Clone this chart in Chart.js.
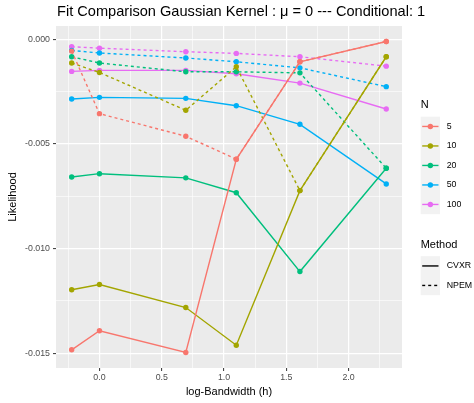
<!DOCTYPE html>
<html>
<head>
<meta charset="utf-8">
<script src="https://cdn.jsdelivr.net/npm/chart.js@4"></script>
<style>
  html, body { margin: 0; padding: 0; background: #fff; }
  #wrap { width: 474px; height: 403px; }
</style>
</head>
<body>
<div id="wrap"><canvas id="fitChart" width="474" height="403"></canvas></div>
<script>
// log-bandwidth values (x)
const logBandwidth = [-0.2231, 0, 0.6931, 1.0986, 1.6094, 2.3026];
const groupN = ['5', '10', '20', '50', '100'];
const methods = ['CVXR', 'NPEM'];
const yTicks = [0, -0.005, -0.010, -0.015];

// likelihood per N, CVXR
const cvxr5   = [-0.01484, -0.01393, -0.01497, -0.00573, -0.00107, -0.00010];
const cvxr10  = [-0.01197, -0.01172, -0.01282, -0.01462, -0.00723, -0.00083];
const cvxr20  = [-0.00658, -0.00642, -0.00662, -0.00733, -0.01110, -0.00616];
const cvxr50  = [-0.00285, -0.00277, -0.00282, -0.00317, -0.00406, -0.00691];
const cvxr100 = [-0.00153, -0.00148, -0.00148, -0.00164, -0.00209, -0.00333];

// likelihood per N, NPEM
const npem5   = [-0.00056, -0.00355, -0.00463, -0.00573, -0.00107, -0.00010];
const npem10  = [-0.00113, -0.00158, -0.00339, -0.00131, -0.00723, -0.00083];
const npem20  = [-0.00083, -0.00113, -0.00155, -0.00155, -0.00160, -0.00616];
const npem50  = [-0.00053, -0.00065, -0.00089, -0.00107, -0.00136, -0.00226];
const npem100 = [-0.00035, -0.00042, -0.00059, -0.00067, -0.00083, -0.00128];

const cvxrSeries = [cvxr5, cvxr10, cvxr20, cvxr50, cvxr100];
const npemSeries = [npem5, npem10, npem20, npem50, npem100];

// ggplot hue palette
const colors = ['#F8766D', '#A3A500', '#00BF7D', '#00B0F6', '#E76BF3'];
const FONT = '"Liberation Sans", Arial, sans-serif';
const DASH = [3, 3];

function toPoints(values) {
    return values.map((v, i) => ({ x: logBandwidth[i], y: v }));
}

const datasets = [];
groupN.forEach((n, i) => {
    datasets.push({
        label: n + ' CVXR',
        data: toPoints(cvxrSeries[i]),
        borderColor: colors[i],
        backgroundColor: colors[i],
        borderWidth: 1.4,
        pointRadius: 2.7,
        pointBorderWidth: 0,
        tension: 0
    });
    datasets.push({
        label: n + ' NPEM',
        data: toPoints(npemSeries[i]),
        borderColor: colors[i],
        backgroundColor: colors[i],
        borderWidth: 1.4,
        borderDash: DASH,
        pointRadius: 2.7,
        pointBorderWidth: 0,
        tension: 0
    });
});

const isMajor = (v, step) => Math.abs(v / step - Math.round(v / step)) < 1e-6;

// panel background, titles and the two legends, ggplot style
const ggDecor = {
    id: 'ggDecor',
    beforeDraw(chart) {
        const { ctx, chartArea: a } = chart;
        ctx.save();
        ctx.fillStyle = '#fff';
        ctx.fillRect(0, 0, chart.width, chart.height);
        ctx.fillStyle = '#EBEBEB';
        ctx.fillRect(a.left, a.top, a.right - a.left, a.bottom - a.top);
        ctx.restore();
    },
    afterDraw(chart) {
        const { ctx, chartArea: a } = chart;
        ctx.save();
        ctx.fillStyle = '#000';
        ctx.textBaseline = 'middle';

        ctx.font = '14.6px ' + FONT;
        ctx.textAlign = 'left';
        ctx.fillText('Fit Comparison Gaussian Kernel : \u03bc = 0 --- Conditional: 1', 57, 12);

        ctx.font = '11px ' + FONT;
        ctx.textAlign = 'center';
        ctx.fillText('log-Bandwidth (h)', (a.left + a.right) / 2, 392);

        ctx.save();
        ctx.translate(13, (a.top + a.bottom) / 2);
        ctx.rotate(-Math.PI / 2);
        ctx.fillText('Likelihood', 0, 0);
        ctx.restore();

        // legend: N
        const kx = 420.7, kw = 19.3, kh = 19.5;
        ctx.textAlign = 'left';
        ctx.font = '11px ' + FONT;
        ctx.fillText('N', kx, 105);
        let top = 116.7;
        ctx.fillStyle = '#F2F2F2';
        ctx.fillRect(kx, top, kw, kh * groupN.length);
        groupN.forEach((n, i) => {
            const cy = top + kh * i + kh / 2;
            ctx.strokeStyle = colors[i];
            ctx.lineWidth = 1.4;
            ctx.setLineDash([]);
            ctx.beginPath();
            ctx.moveTo(kx + 1.5, cy);
            ctx.lineTo(kx + kw - 1.5, cy);
            ctx.stroke();
            ctx.fillStyle = colors[i];
            ctx.beginPath();
            ctx.arc(kx + kw / 2, cy, 2.7, 0, Math.PI * 2);
            ctx.fill();
            ctx.fillStyle = '#000';
            ctx.font = '8.8px ' + FONT;
            ctx.fillText(n, 446.7, cy);
        });

        // legend: Method
        ctx.font = '11px ' + FONT;
        ctx.fillStyle = '#000';
        ctx.fillText('Method', kx, 245);
        top = 256.2;
        ctx.fillStyle = '#F2F2F2';
        ctx.fillRect(kx, top, kw, kh * methods.length);
        methods.forEach((m, i) => {
            const cy = top + kh * i + kh / 2;
            ctx.strokeStyle = '#000';
            ctx.lineWidth = 1.4;
            ctx.setLineDash(i === 0 ? [] : DASH);
            ctx.beginPath();
            ctx.moveTo(kx + 1.5, cy);
            ctx.lineTo(kx + kw - 1.5, cy);
            ctx.stroke();
            ctx.setLineDash([]);
            ctx.fillStyle = '#000';
            ctx.font = '8.8px ' + FONT;
            ctx.fillText(m, 446.7, cy);
        });
        ctx.restore();
    }
};

new Chart(document.getElementById('fitChart'), {
    type: 'line',
    data: { datasets: datasets },
    options: {
        responsive: false,
        animation: false,
        events: [],
        layout: { padding: { left: 0, right: 72, top: 26, bottom: 0 } },
        plugins: {
            legend: { display: false },
            tooltip: { enabled: false }
        },
        scales: {
            x: {
                type: 'linear',
                min: -0.349,
                max: 2.429,
                afterFit: (scale) => { scale.height = 35; },
                border: { display: false },
                grid: {
                    color: '#fff',
                    lineWidth: (c) => isMajor(c.tick.value, 0.5) ? 1.2 : 0.6,
                    tickLength: 3,
                    tickColor: (c) => isMajor(c.tick.value, 0.5) ? '#333' : 'rgba(0,0,0,0)',
                    tickWidth: 1
                },
                ticks: {
                    stepSize: 0.25,
                    includeBounds: false,
                    autoSkip: false,
                    maxRotation: 0,
                    padding: 1.5,
                    color: '#4D4D4D',
                    font: { family: FONT, size: 8.8 },
                    callback: (v) => isMajor(v, 0.5) ? v.toFixed(1) : ''
                }
            },
            y: {
                type: 'linear',
                min: -0.01571,
                max: 0.00064,
                afterFit: (scale) => { scale.width = 56; },
                border: { display: false },
                grid: {
                    color: '#fff',
                    lineWidth: (c) => isMajor(c.tick.value, 0.005) ? 1.2 : 0.6,
                    tickLength: 3,
                    tickColor: (c) => isMajor(c.tick.value, 0.005) ? '#333' : 'rgba(0,0,0,0)',
                    tickWidth: 1
                },
                ticks: {
                    stepSize: 0.0025,
                    includeBounds: false,
                    autoSkip: false,
                    padding: 3,
                    color: '#4D4D4D',
                    font: { family: FONT, size: 8.8 },
                    callback: (v) => {
                        if (!isMajor(v, 0.005)) return '';
                        const t = yTicks.find(y => Math.abs(y - v) < 1e-9);
                        return t === 0 || Math.abs(v) < 1e-9 ? '0.000' : v.toFixed(3);
                    }
                }
            }
        }
    },
    plugins: [ggDecor]
});
</script>
</body>
</html>
